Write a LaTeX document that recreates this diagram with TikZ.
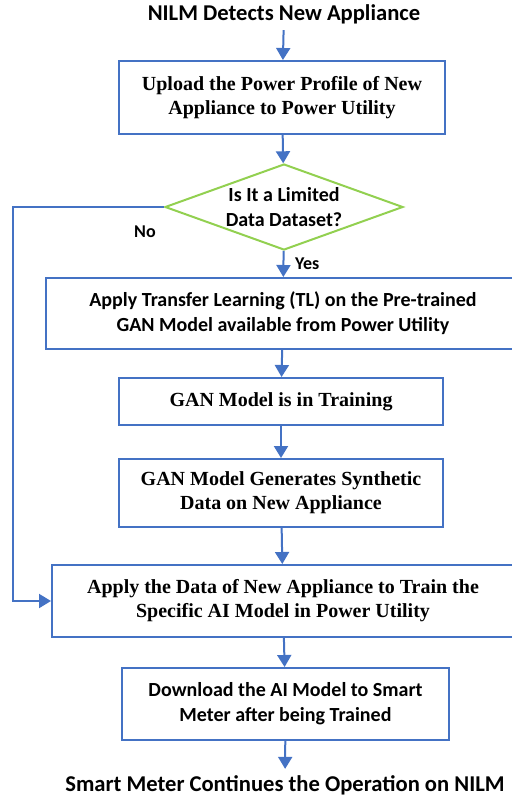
\documentclass[tikz,border=0pt]{standalone}
\usepackage{fontspec}
\setmainfont{Liberation Serif}
\newfontfamily\calibfont{Carlito}
\usepackage{xcolor}
\usetikzlibrary{shapes.geometric, arrows.meta, positioning}
\definecolor{flowblue}{RGB}{68,114,196}
\definecolor{flowgreen}{RGB}{146,208,80}

\begin{document}
\begin{tikzpicture}[
    x=0.5pt, y=-0.5pt,
    box/.style={rectangle, draw=flowblue, line width=1pt, inner sep=0pt, align=center, font=\bfseries\fontsize{10}{12}\selectfont},
    sbox/.style={box, font=\calibfont\bfseries\fontsize{10}{12.5}\selectfont},
    decision/.style={diamond, draw=flowgreen, line width=1pt, inner sep=-3pt, shape aspect=2.77, minimum width=119pt, minimum height=43pt, align=center, font=\calibfont\bfseries\fontsize{10}{12.5}\selectfont},
    plain/.style={font=\calibfont\bfseries\fontsize{11.3}{13}\selectfont, inner sep=3pt},
    arrow/.style={-{Triangle[width=7pt, length=6pt]}, line width=1pt, draw=flowblue},
    label/.style={font=\calibfont\bfseries\fontsize{9}{10}\selectfont}
]
    \useasboundingbox (0,0) rectangle (512,799);
    % Nodes
    \node[plain] (start) at (284,14) {NILM Detects New Appliance};
    \node[box, minimum width=163pt, minimum height=36.5pt] (upload) at (282,97.5) {Upload the Power Profile of New\\Appliance to Power Utility};
    \node[decision] (limited) at (284,207) {Is It a Limited\\Data Dataset?};
    \node[sbox, minimum width=237pt, minimum height=35.5pt] (tl) at (283,313.5) {Apply Transfer Learning (TL) on the Pre-trained\\GAN Model available from Power Utility};
    \node[box, minimum width=162pt, minimum height=23.5pt] (training) at (281,401.5) {GAN Model is in Training};
    \node[box, minimum width=162pt, minimum height=34pt] (synth) at (281,493) {GAN Model Generates Synthetic\\Data on New Appliance};
    \node[box, minimum width=231pt, minimum height=36pt] (train) at (283,601) {Apply the Data of New Appliance to Train the\\Specific AI Model in Power Utility};
    \node[sbox, minimum width=163.5pt, minimum height=36pt] (download) at (285.5,704) {Download the AI Model to Smart\\Meter after being Trained};
    \node[plain] (finish) at (285,785) {Smart Meter Continues the Operation on NILM};
    \coordinate (nocorner) at (13,207);

    % Arrows
    \draw[arrow] (start) -- (upload);
    \draw[arrow] (upload) -- (limited);
    \draw[arrow] (limited) -- node[right, label, xshift=2pt] {Yes} (tl);
    \draw[arrow] (tl) -- (training);
    \draw[arrow] (training) -- (synth);
    \draw[arrow] (synth) -- (train);
    \draw[arrow] (train) -- (download);
    \draw[arrow] (download) -- (finish);
    \draw[arrow] (limited.west) -- (nocorner) |- (train.west);
    \node[label] (no) at (145,232) {No};
\end{tikzpicture}
\end{document}
